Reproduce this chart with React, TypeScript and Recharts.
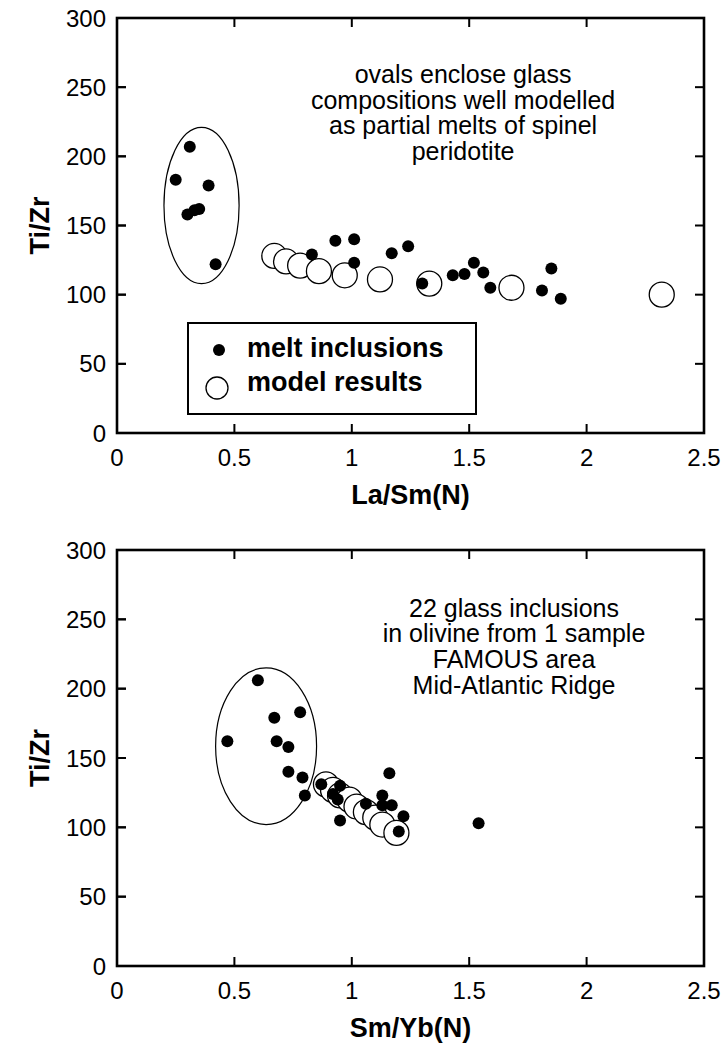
import React from 'react';
import { ScatterChart, Scatter, XAxis, YAxis, ReferenceArea, ReferenceDot, Legend, Label } from 'recharts';

const FONT = '"Liberation Sans", Arial, Helvetica, sans-serif';

// top panel: La/Sm(N) vs Ti/Zr
const laSmInclusions = [0.31, 0.25, 0.39, 0.30, 0.33, 0.35, 0.42, 0.83, 0.93, 1.01, 1.01, 1.17, 1.24, 1.30, 1.43, 1.48, 1.52, 1.56, 1.59, 1.81, 1.85, 1.89];
const tiZrInclusionsTop = [207, 183, 179, 158, 161, 162, 122, 129, 139, 140, 123, 130, 135, 108, 114, 115, 123, 116, 105, 103, 119, 97];
const laSmModel = [0.67, 0.72, 0.78, 0.86, 0.97, 1.12, 1.33, 1.68, 2.32];
const tiZrModelTop = [128, 124, 121, 117, 114, 111, 108, 105, 100];

// bottom panel: Sm/Yb(N) vs Ti/Zr
const smYbInclusions = [0.60, 0.47, 0.67, 0.78, 0.68, 0.73, 0.73, 0.79, 0.80, 0.87, 0.95, 0.92, 0.94, 0.95, 1.06, 1.16, 1.13, 1.13, 1.17, 1.22, 1.20, 1.54];
const tiZrInclusionsBottom = [206, 162, 179, 183, 162, 158, 140, 136, 123, 131, 130, 124, 120, 105, 117, 139, 123, 116, 116, 108, 97, 103];
const smYbModel = [0.89, 0.92, 0.95, 0.99, 1.02, 1.06, 1.10, 1.13, 1.19];
const tiZrModelBottom = [131, 127, 123, 120, 115, 111, 107, 102, 96];

const xTicks = [0, 0.5, 1, 1.5, 2, 2.5];
const yTicks = [0, 50, 100, 150, 200, 250, 300];
const X_MIN = 0, X_MAX = 2.5, Y_MIN = 0, Y_MAX = 300;

// ovals (data units)
const topOval = { x1: 0.20, x2: 0.52, y1: 108, y2: 221 };
const bottomOval = { x1: 0.42, x2: 0.85, y1: 102, y2: 215 };

const topNote = ['ovals enclose glass', 'compositions well modelled', 'as partial melts of spinel', 'peridotite'];
const topNoteAt = { x: 1.474, y: 253 };
const bottomNote = ['22 glass inclusions', 'in olivine from 1 sample', 'FAMOUS area', 'Mid-Atlantic Ridge'];
const bottomNoteAt = { x: 1.691, y: 252 };

const toPoints = (xs: number[], ys: number[]) => xs.map((x, i) => ({ x, y: ys[i] }));

const Dot = (p: any) => <circle cx={p.cx} cy={p.cy} r={6} fill="#000" />;
const Ring = (p: any) => <circle cx={p.cx} cy={p.cy} r={12.5} fill="#fff" stroke="#000" strokeWidth={1.3} />;
const Oval = (p: any) => (
  <ellipse
    cx={p.x + p.width / 2}
    cy={p.y + p.height / 2}
    rx={Math.abs(p.width) / 2}
    ry={Math.abs(p.height) / 2}
    fill="none"
    stroke="#000"
    strokeWidth={1.2}
  />
);
const Frame = (p: any) => (
  <rect x={p.x} y={p.y} width={p.width} height={p.height} fill="none" stroke="#000" strokeWidth={2.6} />
);

// inward tick marks (small filled bars starting at the frame)
const TICK = 9;
const TW = 2;
const bar = (x: number, y: number, dx: number, dy: number) => (
  <rect
    x={x + Math.min(dx, 0) - (dx === 0 ? TW / 2 : 0)}
    y={y + Math.min(dy, 0) - (dy === 0 ? TW / 2 : 0)}
    width={dx === 0 ? TW : Math.abs(dx)}
    height={dy === 0 ? TW : Math.abs(dy)}
    fill="#000"
  />
);
const mark = (dx: number, dy: number) => (p: any) => bar(Number(p.cx), Number(p.cy), dx, dy);
const UpMark = mark(0, -TICK);
const DownMark = mark(0, TICK);
const LeftMark = mark(-TICK, 0);
const RightMark = mark(TICK, 0);
const innerX = xTicks.filter((t) => t > X_MIN && t < X_MAX);
const innerY = yTicks.filter((t) => t > Y_MIN && t < Y_MAX);
// a zero x is skipped by ReferenceDot, so the left marks sit a hair inside it
const LEFT_EDGE = X_MIN + 1e-9;

const BottomLabel = (p: any) => (
  <text x={p.x} y={p.y + 33} textAnchor="middle" fontFamily={FONT} fontSize={24} fill="#000">{p.payload.value}</text>
);
const LeftLabel = (p: any) => (
  <g>
    {p.payload.value > Y_MIN && p.payload.value < Y_MAX && bar(Number(p.x), Number(p.y), TICK, 0)}
    <text x={p.x - 11} y={p.y + 8.5} textAnchor="end" fontFamily={FONT} fontSize={24} fill="#000">{p.payload.value}</text>
  </g>
);

const noteLabel = (lines: string[]) => (props: any) => {
  const vb = props.viewBox;
  const cx = vb.x + (vb.width || 0) / 2;
  const cy = vb.y + (vb.height || 0) / 2;
  return (
    <text x={cx} y={cy} textAnchor="middle" fontFamily={FONT} fontSize={25} fill="#000">
      {lines.map((l, i) => (
        <tspan key={i} x={cx} y={cy + i * 25.7}>{l}</tspan>
      ))}
    </text>
  );
};

const LegendBox = () => (
  <svg width={290} height={93} style={{ display: 'block' }}>
    <rect x={1} y={1} width={288} height={91} fill="#fff" stroke="#000" strokeWidth={2} />
    <circle cx={32} cy={28} r={6} fill="#000" />
    <text x={60} y={35} fontFamily={FONT} fontWeight="bold" fontSize={27} fill="#000">melt inclusions</text>
    <circle cx={30} cy={66} r={11} fill="#fff" stroke="#000" strokeWidth={1.3} />
    <text x={60} y={69} fontFamily={FONT} fontWeight="bold" fontSize={27} fill="#000">model results</text>
  </svg>
);

interface PanelProps {
  height: number;
  top: number;
  plotH: number;
  xLabel: string;
  inclusions: { x: number; y: number }[];
  model: { x: number; y: number }[];
  oval: { x1: number; x2: number; y1: number; y2: number };
  note: string[];
  noteAt: { x: number; y: number };
  showLegend?: boolean;
}

const Panel: React.FC<PanelProps> = ({ height, top, plotH, xLabel, inclusions, model, oval, note, noteAt, showLegend }) => (
  <ScatterChart width={723} height={height} margin={{ top, right: 19, left: 0, bottom: 0 }}>
    <XAxis
      type="number"
      dataKey="x"
      domain={[X_MIN, X_MAX]}
      ticks={xTicks}
      allowDataOverflow
      height={height - top - plotH}
      axisLine={false}
      tickLine={false}
      tickSize={0}
      tickMargin={0}
      tick={BottomLabel}
    >
      <Label
        content={(p: any) => (
          <text x={p.viewBox.x + p.viewBox.width / 2} y={p.viewBox.y + 71} textAnchor="middle" fontFamily={FONT} fontWeight="bold" fontSize={27} fill="#000">
            {xLabel}
          </text>
        )}
      />
    </XAxis>
    <YAxis
      type="number"
      dataKey="y"
      domain={[Y_MIN, Y_MAX]}
      ticks={yTicks}
      allowDataOverflow
      width={117}
      axisLine={false}
      tickLine={false}
      tickSize={0}
      tickMargin={0}
      tick={LeftLabel}
    >
      <Label
        content={(p: any) => {
          const cx = p.viewBox.x + 40;
          const cy = p.viewBox.y + p.viewBox.height / 2;
          return (
            <text x={cx} y={cy} transform={`rotate(-90 ${cx} ${cy})`} textAnchor="middle" dominantBaseline="central" fontFamily={FONT} fontWeight="bold" fontSize={27} fill="#000">
              Ti/Zr
            </text>
          );
        }}
      />
    </YAxis>
    <ReferenceArea x1={X_MIN} x2={X_MAX} y1={Y_MIN} y2={Y_MAX} shape={Frame} ifOverflow="visible" />
    {innerX.map((t) => (
      <ReferenceDot key={`b${t}`} x={t} y={Y_MIN} r={1} shape={UpMark} ifOverflow="visible" />
    ))}
    {innerX.map((t) => (
      <ReferenceDot key={`t${t}`} x={t} y={Y_MAX} r={1} shape={DownMark} ifOverflow="visible" />
    ))}
    {innerY.map((t) => (
      <ReferenceDot key={`r${t}`} x={X_MAX} y={t} r={1} shape={LeftMark} ifOverflow="visible" />
    ))}
    {innerY.map((t) => (
      <ReferenceDot key={`l${t}`} x={LEFT_EDGE} y={t} r={1} shape={RightMark} ifOverflow="visible" />
    ))}
    <ReferenceArea x1={oval.x1} x2={oval.x2} y1={oval.y1} y2={oval.y2} shape={Oval} />
    <ReferenceDot x={noteAt.x} y={noteAt.y} r={0} fill="none" stroke="none" label={{ content: noteLabel(note) } as any} />
    <Scatter name="model results" data={model} shape={Ring} isAnimationActive={false} />
    <Scatter name="melt inclusions" data={inclusions} shape={Dot} isAnimationActive={false} />
    {showLegend && (
      <Legend
        layout="vertical"
        align="center"
        verticalAlign="middle"
        content={LegendBox}
        wrapperStyle={{ left: 187, top: 322, width: 290, height: 93 }}
      />
    )}
  </ScatterChart>
);

export default function App() {
  return (
    <div style={{ position: 'absolute', left: 0, top: 0, width: 723, height: 1045, background: '#fff' }}>
      <Panel
        height={515}
        top={18}
        plotH={415}
        xLabel="La/Sm(N)"
        inclusions={toPoints(laSmInclusions, tiZrInclusionsTop)}
        model={toPoints(laSmModel, tiZrModelTop)}
        oval={topOval}
        note={topNote}
        noteAt={topNoteAt}
        showLegend
      />
      <div style={{ position: 'absolute', left: 0, top: 515 }}>
        <Panel
          height={530}
          top={35}
          plotH={416}
          xLabel="Sm/Yb(N)"
          inclusions={toPoints(smYbInclusions, tiZrInclusionsBottom)}
          model={toPoints(smYbModel, tiZrModelBottom)}
          oval={bottomOval}
          note={bottomNote}
          noteAt={bottomNoteAt}
        />
      </div>
    </div>
  );
}
